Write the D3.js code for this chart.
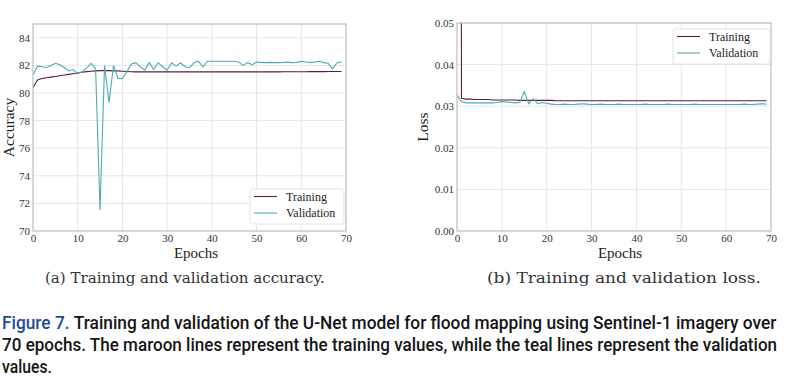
<!DOCTYPE html>
<html><head><meta charset="utf-8">
<script src="https://cdn.jsdelivr.net/npm/d3@7"></script>
<style>body{margin:0;background:#fff}svg{display:block}</style>
</head><body>
<svg id="c" width="788" height="386"></svg>
<script>
const epochs = d3.range(70);
const accTraining = [80.4,80.95,81.05,81.1,81.15,81.2,81.25,81.3,81.35,81.4,81.45,81.5,81.55,81.58,81.6,81.62,81.62,81.62,81.6,81.6,
 81.58,81.56,81.54,81.53,81.53,81.53,81.53,81.53,81.53,81.53,81.53,81.53,81.53,81.53,81.53,81.53,81.53,81.53,81.53,81.53,
 81.53,81.53,81.53,81.53,81.53,81.53,81.53,81.53,81.53,81.53,81.53,81.53,81.53,81.53,81.53,81.53,81.54,81.54,81.54,81.54,
 81.54,81.54,81.55,81.55,81.55,81.55,81.56,81.56,81.56,81.56];
const accValidation = [81.3,81.95,81.9,81.85,82.0,82.15,82.05,81.85,81.6,81.7,81.4,81.55,81.8,82.15,81.75,71.5,82.0,79.3,82.0,81.05,
 81.05,81.55,82.1,82.2,81.9,81.66,82.2,81.7,82.19,81.9,81.66,82.19,81.95,82.19,81.9,81.83,82.19,82.3,81.9,82.3,
 82.3,82.3,82.3,82.3,82.3,82.3,82.25,82.0,82.2,82.05,82.25,82.22,82.2,82.22,82.2,82.2,82.22,82.25,82.2,82.22,
 82.3,82.25,82.2,82.25,82.3,82.2,82.15,81.75,82.2,82.25];
const lossTraining = [0.8,0.0319,0.0317,0.0317,0.0316,0.0316,0.0316,0.0316,0.0315,0.0315,0.0315,0.0315,0.0315,0.0315,0.0314,0.0314,0.0314,0.0314,0.0314,0.0314,
 0.0314,0.0314,0.0313,0.0313,0.0313,0.0313,0.0313,0.0313,0.0313,0.0313,0.0313,0.0313,0.0313,0.0313,0.0313,0.0313,0.0313,0.0313,0.0313,0.0313,
 0.0313,0.0313,0.0313,0.0313,0.0313,0.0313,0.0313,0.0313,0.0313,0.0313,0.0313,0.0313,0.0313,0.0313,0.0313,0.0313,0.0313,0.0313,0.0313,0.0313,
 0.0313,0.0313,0.0313,0.0313,0.0313,0.0313,0.0313,0.0313,0.0313,0.0313];
const lossValidation = [0.0327,0.0311,0.0308,0.0308,0.0308,0.0308,0.0308,0.0308,0.0308,0.0309,0.0311,0.0310,0.0309,0.0308,0.0309,0.0335,0.0306,0.0318,0.0306,0.0309,
 0.0307,0.0305,0.0304,0.0304,0.0305,0.0304,0.0304,0.0305,0.0306,0.0305,0.0304,0.0304,0.0305,0.0304,0.0304,0.0304,0.0305,0.0304,0.0304,0.0304,
 0.0304,0.0304,0.0305,0.0304,0.0304,0.0304,0.0304,0.0305,0.0304,0.0304,0.0304,0.0304,0.0304,0.0305,0.0304,0.0304,0.0304,0.0304,0.0304,0.0304,
 0.0304,0.0304,0.0304,0.0304,0.0305,0.0304,0.0304,0.0305,0.0306,0.0305];
const xTicks = [0,10,20,30,40,50,60,70];
const accTicks = [70,72,74,76,78,80,82,84];
const lossTicks = [0,0.01,0.02,0.03,0.04,0.05];
const seriesNames = ["Training","Validation"];
const colors = {Training:"#5a1e3c", Validation:"#4faab4"};

const svg = d3.select("#c");
const serif = "'Liberation Serif','DejaVu Serif',serif";

// place a text so that its rendered width equals w by horizontal scaling
function fitText(sel, x, y, w, anchor){
  const len = sel.node().getComputedTextLength();
  const sx = w/len;
  const x0 = anchor==="middle" ? x - w/2 : x;
  sel.attr("x",0).attr("y",0).attr("text-anchor","start")
     .attr("transform",`translate(${x0},${y}) scale(${sx},1)`);
}

function panel(o){
  const g = svg.append("g");
  const x = d3.scaleLinear().domain([0,70]).range([o.left,o.right]);
  const y = d3.scaleLinear().domain(o.ydom).range([o.bottom,o.top]);
  g.append("g").selectAll("line").data(xTicks.slice(1,-1)).join("line")
    .attr("x1",d=>x(d)).attr("x2",d=>x(d)).attr("y1",o.top).attr("y2",o.bottom)
    .attr("stroke","#e6e6e6").attr("stroke-width",1);
  g.append("g").selectAll("line").data(o.yticks.slice(1)).join("line")
    .attr("y1",d=>y(d)).attr("y2",d=>y(d)).attr("x1",o.left).attr("x2",o.right)
    .attr("stroke","#e6e6e6").attr("stroke-width",1);
  const xa = g.append("g").attr("transform",`translate(0,${o.bottom})`)
    .call(d3.axisBottom(x).tickValues(xTicks).tickSize(0).tickPadding(3));
  const ya = g.append("g").attr("transform",`translate(${o.left},0)`)
    .call(d3.axisLeft(y).tickValues(o.yticks).tickSize(0).tickPadding(3).tickFormat(o.fmt));
  [xa,ya].forEach(a=>{a.select(".domain").remove();
    a.selectAll("text").attr("font-family",serif).attr("font-size",11).attr("fill","#333");});
  const cid = "clip"+o.id;
  svg.append("clipPath").attr("id",cid).append("rect")
    .attr("x",o.left).attr("y",o.top).attr("width",o.right-o.left).attr("height",o.bottom-o.top);
  const line = d3.line().x((d,i)=>x(epochs[i])).y(d=>y(d));
  g.append("path").datum(o.train).attr("d",line).attr("fill","none")
    .attr("stroke",colors.Training).attr("stroke-width",1.1).attr("clip-path",`url(#${cid})`);
  g.append("path").datum(o.val).attr("d",line).attr("fill","none")
    .attr("stroke",colors.Validation).attr("stroke-width",1.1).attr("clip-path",`url(#${cid})`);
  g.append("rect").attr("x",o.left).attr("y",o.top).attr("width",o.right-o.left).attr("height",o.bottom-o.top)
    .attr("fill","none").attr("stroke","#bdbdbd").attr("stroke-width",1.2);
  g.append("text").attr("x",o.xlabX).attr("y",o.bottom+27).attr("text-anchor","middle")
    .attr("font-family",serif).attr("font-size",15).attr("fill","#222").text("Epochs");
  g.append("text").attr("transform",`translate(${o.ylabX},${(o.top+o.bottom)/2}) rotate(-90)`)
    .attr("text-anchor","middle").attr("font-family",serif).attr("font-size",15.5).attr("fill","#222").text(o.ylab);
  const L = o.legend;
  g.append("rect").attr("x",L.x).attr("y",L.y).attr("width",L.w).attr("height",L.h)
    .attr("fill","#fff").attr("stroke","#e3e3e3").attr("rx",2);
  seriesNames.forEach((s,i)=>{
    const yy = L.y + 7.5 + i*16.5;
    g.append("line").attr("x1",L.x+4).attr("x2",L.x+27).attr("y1",yy).attr("y2",yy)
      .attr("stroke",colors[s]).attr("stroke-width",1.1);
    g.append("text").attr("x",L.x+36).attr("y",yy+4).attr("font-family",serif).attr("font-size",12)
      .attr("fill","#222").text(s);
  });
  const cap = g.append("text").attr("font-family","'DejaVu Serif',serif").attr("font-size",15)
    .attr("font-weight","normal").attr("fill","#333").text(o.caption);
  fitText(cap, o.capX, 283, o.capW, "middle");
}

panel({id:"a",left:33,right:346,top:24,bottom:231,ydom:[70,85],yticks:accTicks,fmt:d3.format("d"),
  train:accTraining,val:accValidation,ylab:"Accuracy",ylabX:14,xlabX:196,
  legend:{x:250,y:189,w:94,h:35},caption:"(a) Training and validation accuracy.",capX:185,capW:280});
panel({id:"b",left:457,right:771,top:23,bottom:231,ydom:[0,0.05],yticks:lossTicks,fmt:d3.format(".2f"),
  train:lossTraining,val:lossValidation,ylab:"Loss",ylabX:428,xlabX:620,
  legend:{x:673,y:29,w:97,h:35},caption:"(b) Training and validation loss.",capX:624,capW:274});

// figure caption
const sans = "Roboto,'Open Sans','Noto Sans',sans-serif";
const capG = svg.append("g").attr("font-family",sans).attr("font-size",19).attr("font-weight",500).attr("fill","#151515");
const t1 = capG.append("text");
t1.append("tspan").attr("fill","#1f4a98").text("Figure 7. ");
t1.append("tspan").text("Training and validation of the U-Net model for flood mapping using Sentinel-1 imagery over");
fitText(t1, 2, 329, 775, "start");
const t2 = capG.append("text")
  .text("70 epochs. The maroon lines represent the training values, while the teal lines represent the validation");
fitText(t2, 2, 351, 776, "start");
const t3 = capG.append("text").text("values.");
fitText(t3, 2, 373, 50, "start");
</script>
</body></html>
